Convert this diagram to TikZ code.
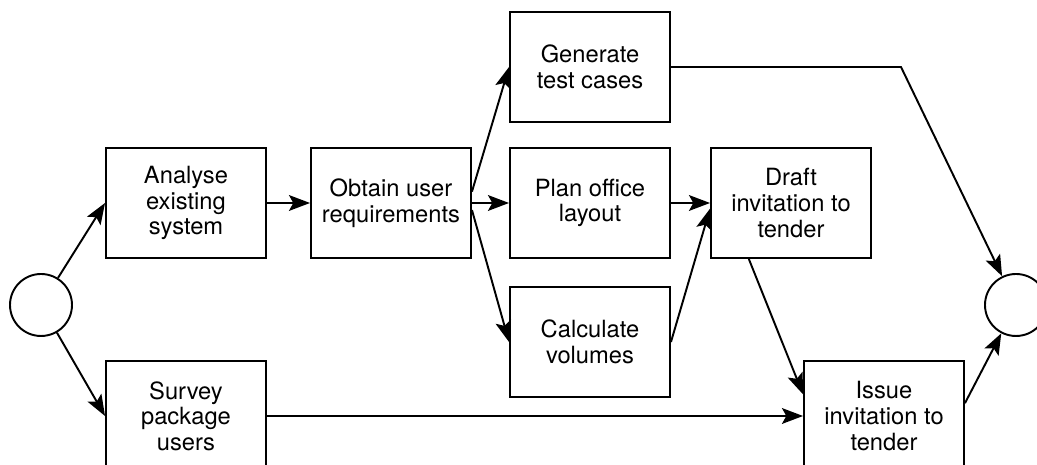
\documentclass[tikz,border=0pt]{standalone}
\usepackage{fontspec}
\setmainfont{TeX Gyre Heros}
\usetikzlibrary{arrows.meta}
\begin{document}
\begin{tikzpicture}[line width=1.1pt, >={Stealth[length=12pt, width=9pt, inset=2.5pt]},
  task/.style={draw, minimum width=3.2cm, minimum height=2.2cm, align=center, inner sep=1pt, font=\fontsize{13.5}{14.6}\selectfont},
  event/.style={draw, circle, minimum size=1.24cm, inner sep=0pt}]
  \useasboundingbox (0,0) rectangle (20.74,9.30);
  \node[event] (start) at (0.82,3.20) {};
  \node[task] (analyse) at (3.72,5.24) {Analyse\\existing\\system};
  \node[task] (survey) at (3.72,0.98) {Survey\\package\\users};
  \node[task] (obtain) at (7.82,5.24) {Obtain user\\requirements};
  \node[task] (generate) at (11.80,7.96) {Generate\\test cases};
  \node[task] (plan) at (11.80,5.24) {Plan office\\layout};
  \node[task] (calc) at (11.80,2.46) {Calculate\\volumes};
  \node[task] (draft) at (15.82,5.24) {Draft\\invitation to\\tender};
  \node[task] (issue) at (17.68,0.98) {Issue\\invitation to\\tender};
  \node[event] (end) at (20.32,3.20) {};
  \coordinate (bend) at (18.02,7.96);
  \draw[->] (start) -- (analyse.west);
  \draw[->] (start) -- (survey.west);
  \draw[->] (analyse.east) -- (obtain.west);
  \draw[->] (obtain.8) -- (generate.west);
  \draw[->] (obtain.east) -- (plan.west);
  \draw[->] (obtain.-5) -- (calc.west);
  \draw[->] (plan.east) -- (draft.west);
  \draw[->] (calc.east) -- (draft.184);
  \draw[->] (generate.east) -- (bend) -- (end);
  \draw[->] (draft.233) -- (issue.165);
  \draw[->] (survey.east) -- (issue.west);
  \draw[->] (issue.9) -- (end);
\end{tikzpicture}
\end{document}
